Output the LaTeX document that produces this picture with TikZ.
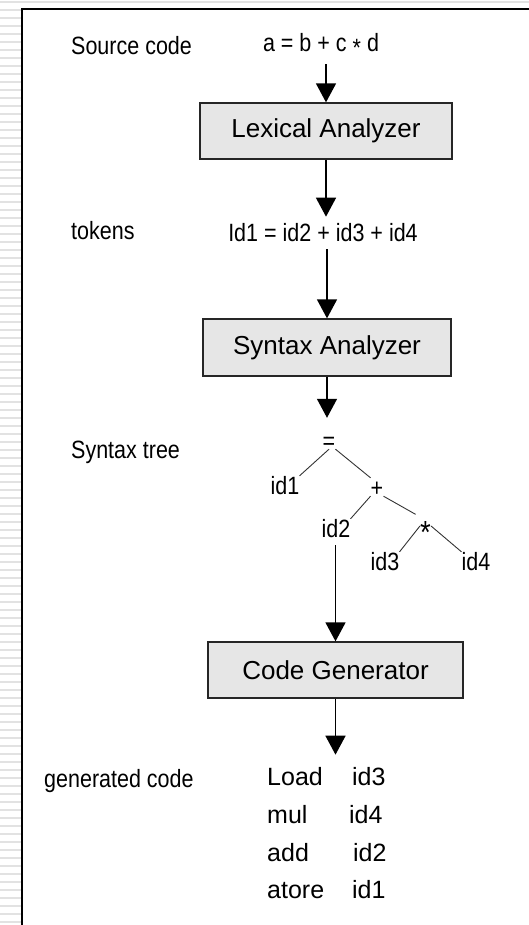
\documentclass[tikz,border=0pt]{standalone}
\usepackage{fontspec}
\setmainfont{Liberation Sans}
\newfontfamily\labfont[FakeStretch=0.86]{Liberation Sans}
\usetikzlibrary{arrows.meta,calc}
\definecolor{boxgray}{RGB}{230,230,230}
\definecolor{stripegray}{RGB}{226,226,226}
\begin{document}
\begin{tikzpicture}[x=1pt,y=-1pt,
  lab/.style={font=\labfont\fontsize{25}{30}\selectfont, inner sep=0pt, anchor=base west},
  expr/.style={font=\labfont\fontsize{25}{30}\selectfont, inner sep=0pt, anchor=base},
  treenode/.style={font=\labfont\fontsize{25}{30}\selectfont, inner sep=0pt, anchor=base, text height=18pt, text depth=0pt},
  stage/.style={draw=black!85, line width=1.3pt, fill=boxgray, font=\fontsize{26}{30}\selectfont, inner sep=0pt},
  code/.style={font=\fontsize{25}{30}\selectfont, inner sep=0pt, anchor=base west},
  arr/.style={line width=1.5pt, -{Triangle[width=20pt,length=19pt]}},
  edge/.style={line width=0.9pt, black!80},
  stripe/.style={stripegray, line width=1.6pt}
]
\useasboundingbox (0,0) rectangle (529,925);
% background stripes
\draw[stripe] (0,2) -- (529,2);
\foreach \k in {1,...,115} \draw[stripe] (0,{2+8*\k}) -- (21,{2+8*\k});
% frame
\draw[line width=2pt] (22,925) -- (22,9.5) -- (529,9.5);

% labels
\node[lab] (lsrc) at (71,55) {Source code};
\node[lab] (ltok) at (71,240) {tokens};
\node[lab] (ltree) at (71,458) {Syntax tree};
\node[lab] (lgen) at (44,787) {generated code};

% main column
\node[expr] (src) at (321,52) {a = b + c \raisebox{-5pt}{*} d};
\node[stage, minimum width=252pt, minimum height=56pt] (lex) at (326,131) {Lexical Analyzer};
\node[expr] (tok) at (323,241) {Id1 = id2 + id3 + id4};
\node[stage, minimum width=248pt, minimum height=57pt] (syn) at (327,347.5) {Syntax Analyzer};

% syntax tree
\node[treenode] (eq) at (329,449) {=};
\node[treenode] (id1) at (285,494) {id1};
\node[treenode] (plus) at (377,496) {+};
\node[treenode] (id2) at (336,537) {id2};
\node[treenode] (star) at (425.5,535) {\fontsize{32}{32}\selectfont\raisebox{-8pt}{*}};
\node[treenode] (id3) at (385,570) {id3};
\node[treenode] (id4) at (476,570) {id4};

\node[stage, minimum width=255pt, minimum height=56pt] (cg) at (335.5,670) {Code Generator};

% generated code
\node[code] (c1) at (267,785) {\makebox[85pt][l]{Load}id3};
\node[code] (c2) at (267,823) {\makebox[82pt][l]{mul}id4};
\node[code] (c3) at (267,861) {\makebox[86pt][l]{add}id2};
\node[code] (c4) at (267,898) {\makebox[85pt][l]{atore}id1};

% arrows
\draw[arr, shorten <=7pt] (src.south -| lex.north) -- (lex.north);
\draw[arr, shorten >=6pt] (lex.south) -- (lex.south |- tok.north);
\draw[arr, shorten <=8pt] (tok.south -| syn.north) -- (syn.north);
\draw[arr, shorten >=13pt] (syn.south) -- (syn.south |- eq.north);
\draw[arr, shorten <=8pt] (id2.south -| cg.north) -- (cg.north);
\draw[arr, shorten >=12pt] (cg.south) -- (cg.south |- c1.north);

% tree edges
\draw[edge] (eq.south) -- (id1.north east);
\draw[edge] (eq.south east) -- (plus.north west);
\draw[edge] (plus.south west) -- (id2.north east);
\draw[edge, shorten >=5pt] (plus.south east) -- (star.north west);
\draw[edge] (star.west) -- (id3.north east);
\draw[edge] (star.east) -- (id4.north west);
\end{tikzpicture}
\end{document}
